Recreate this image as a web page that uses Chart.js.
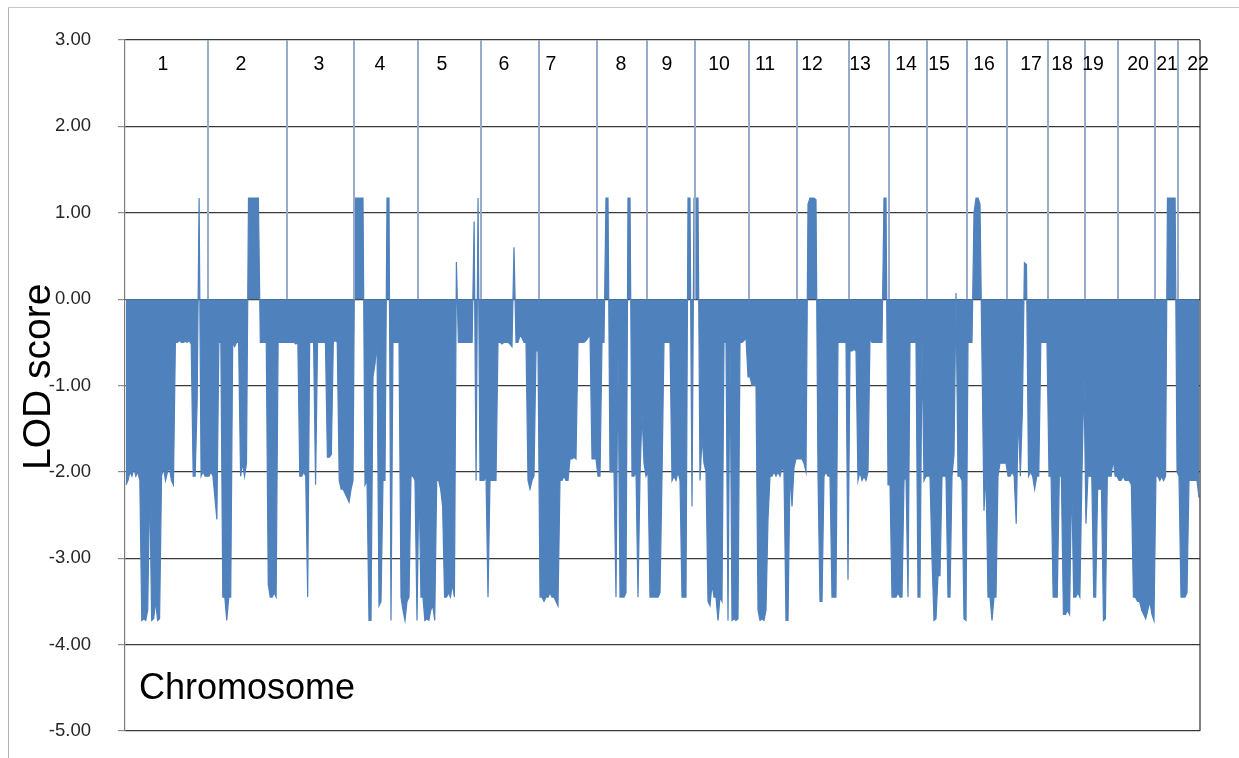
<!DOCTYPE html>
<html>
<head>
<meta charset="utf-8">
<title>LOD score by chromosome</title>
<script src="https://cdn.jsdelivr.net/npm/chart.js@4.4.0/dist/chart.umd.min.js"></script>
<style>
    html, body { margin: 0; padding: 0; background: #ffffff; overflow: hidden; }
    #wrap { position: relative; width: 1239px; height: 758px; }
    #frame { position: absolute; left: 8px; top: 7px; right: -20px; bottom: -20px;
             border-top: 1px solid #c6c6c6; border-left: 1px solid #b4b4b4; }
    #lodChart { position: absolute; left: 0; top: 0; }
</style>
</head>
<body>
<div id="wrap">
    <div id="frame"></div>
    <canvas id="lodChart" width="1239" height="758"></canvas>
</div>
<script>
// Chromosome names and map lengths (relative map units)
const chromosomes = ['1','2','3','4','5','6','7','8','9','10','11','12','13','14','15','16','17','18','19','20','21','22'];
const chrLength = [83, 79, 67, 64, 63, 58, 58, 50, 48, 54, 48, 52, 40, 38, 40, 40, 41, 37, 33, 37, 23, 22];
// where each chromosome number sits along the map
const chrLabelPos = [38, 116, 194, 255, 317, 379, 426, 496, 542, 594, 640, 687, 735, 781, 814, 859, 906, 937, 968, 1013, 1042, 1073];

// y axis ticks
const yTicks = [3, 2, 1, 0, -1, -2, -3, -4, -5];

// LOD scores along each chromosome (markers evenly spaced within a chromosome)
const lodChr1 = [-2.15, -2.1, -2.0, -2.05, -1.95, -2.05, -2.0, -2.1, -3.72, -3.7, -3.72, -3.6, -2.1, -3.72, -3.7, -3.5, -3.72, -3.7, -2.05, -1.95, -2.1, -2.0, -1.95, -2.1, -2.15, -0.5, -0.5, -0.48, -0.5, -0.5, -0.49, -0.5, -0.48, -0.52, -2.05, -2.05, -1.2, 1.17, -2.05, -2.0, -2.05, -2.05];
const lodChr2 = [-2.05, -2.0, -2.05, -2.3, -2.55, -0.5, -0.5, -3.45, -3.45, -3.72, -3.45, -3.45, -0.5, -0.55, -0.5, -0.5, -2.05, -1.9, -2.05, -1.9, 1.17, 1.17, 1.17, 1.17, 1.17, 1.17, -0.5, -0.5, -0.5, -0.5, -3.3, -3.45, -3.45, -3.4, -3.45, -0.5, -0.5, -0.5, -0.5, -0.5];
const lodChr3 = [-0.5, -0.5, -0.5, -0.5, -0.52, -0.5, -2.05, -2.05, -2.0, -2.05, -3.45, -0.5, -0.5, -0.5, -2.15, -0.5, -0.5, -0.5, -0.5, -0.5, -1.83, -1.83, -1.8, -0.5, -0.48, -0.5, -2.1, -2.2, -2.2, -2.25, -2.3, -2.35, -2.2, -2.1];
const lodChr4 = [1.17, 1.17, 1.17, 1.17, 1.17, -2.15, -2.1, -3.72, -3.72, -0.9, -0.75, -0.5, -3.55, -3.5, -2.1, -2.1, 1.17, 1.17, -3.72, -0.5, -0.5, -0.5, -0.5, -3.45, -3.6, -3.72, -3.5, -3.45, -2.05, -2.05, -2.1, -3.72];
const lodChr5 = [-2.05, -3.45, -3.45, -3.72, -3.7, -3.72, -3.6, -3.55, -3.72, -2.1, -2.1, -2.2, -2.4, -3.45, -3.45, -3.4, -3.45, -3.3, -3.45, 0.43, -0.5, -0.5, -0.5, -0.5, -0.5, -0.5, -0.5, -0.5, 0.9, -2.1, 1.17, -2.1];
const lodChr6 = [-2.1, -2.1, -2.05, -3.45, -2.1, -2.1, -2.1, -2.1, -0.5, -0.5, -0.52, -0.5, -0.5, -0.5, -0.52, -0.55, 0.6, -0.5, -0.5, -0.42, -0.45, -0.5, -0.5, -2.1, -2.2, -2.1, -2.05, -0.6, -0.6];
const lodChr7 = [-3.45, -3.45, -3.5, -3.45, -3.45, -3.4, -3.45, -3.45, -3.5, -3.55, -2.1, -2.1, -2.05, -2.1, -2.1, -1.85, -1.85, -1.83, -1.85, -0.5, -0.5, -0.5, -0.5, -0.48, -0.45, -0.4, -1.85, -1.85, -1.85];
const lodChr8 = [-2.05, -2.05, -0.5, -0.5, 1.17, 1.17, -2.0, -2.0, -2.0, -3.45, -0.6, -3.45, -3.45, -3.45, -3.4, 1.17, 1.17, -2.05, -2.05, -2.0, -3.45, -2.05, -1.3, -1.9, -2.05];
const lodChr9 = [-2.0, -3.45, -3.45, -3.45, -3.45, -3.45, -3.4, -2.05, -0.5, -0.5, -0.5, -0.5, -2.1, -2.05, -2.1, -2.0, -2.1, -3.45, -3.45, -3.45, 1.17, 1.17, -2.4, 1.17];
const lodChr10 = [1.17, 1.17, -2.1, -1.6, -1.9, -2.0, -3.5, -3.55, -3.3, -3.45, -3.45, -3.72, -3.45, -3.5, -0.5, -0.5, -3.72, -0.5, -3.72, -3.7, -3.72, -3.7, -0.5, -0.5, -0.48, -0.45, -0.9];
const lodChr11 = [-0.9, -1.0, -1.0, -1.0, -3.6, -3.72, -3.7, -3.72, -3.6, -2.55, -2.05, -2.05, -2.0, -2.05, -2.0, -2.05, -1.95, -2.0, -3.72, -3.72, -2.0, -2.4, -1.95, -1.85];
const lodChr12 = [-1.85, -1.85, -1.85, -1.9, -2.0, 1.1, 1.17, 1.17, 1.17, 1.15, -2.05, -3.5, -3.5, -2.05, -2.0, -2.05, -2.05, -3.45, -3.45, -3.45, -0.5, -0.5, -0.5, -0.5, -0.5, -3.25];
const lodChr13 = [-0.6, -0.6, -0.58, -0.6, -2.1, -2.0, -2.1, -2.05, -2.1, -2.0, -0.45, -0.5, -0.5, -0.5, -0.5, -0.5, -0.5, 1.17, 1.17, -2.15];
const lodChr14 = [-2.15, -3.45, -3.45, -3.45, -3.4, -3.45, -3.45, -2.1, -2.05, -3.45, -0.5, -0.5, -0.5, -0.5, -3.45, -3.45, -0.5, -2.1, -2.05];
const lodChr15 = [-2.05, -2.05, -3.0, -3.72, -3.7, -3.2, -3.2, -2.05, -2.05, -2.05, -3.45, -3.45, -2.05, -1.8, 0.07, -2.05, -2.05, -2.1, -3.7, -3.72];
const lodChr16 = [-0.5, -0.5, -0.5, 1.0, 1.17, 1.17, 1.1, -0.7, -2.45, -2.0, -3.45, -3.45, -3.72, -3.45, -3.45, -2.05, -1.9, -1.9, -1.9, -1.9];
const lodChr17 = [-2.05, -2.05, -2.0, -2.05, -2.6, -1.3, -2.05, -1.3, 0.42, 0.4, -2.05, -2.0, -2.05, -2.2, -2.05, -2.05, -0.5, -0.5, -0.5, -0.5];
const lodChr18 = [-2.05, -2.05, -3.45, -3.45, -3.45, -2.05, -2.05, -3.65, -3.65, -3.6, -3.65, -2.05, -3.45, -3.45, -3.4, -3.45, -2.05, -0.9];
const lodChr19 = [-2.6, -2.05, -2.05, -2.05, -3.45, -3.45, -2.2, -2.2, -2.2, -3.72, -3.7, -2.05, -2.05, -2.05, -1.85, -2.05, -2.05];
const lodChr20 = [-2.1, -2.1, -2.05, -2.1, -2.1, -2.1, -2.15, -3.45, -3.45, -3.5, -3.5, -3.6, -3.65, -3.7, -3.6, -3.5, -3.65, -3.72];
const lodChr21 = [-2.05, -2.05, -2.1, -2.05, -2.1, -2.05, 1.17, 1.17, 1.17, 1.17, 1.17, -2.0];
const lodChr22 = [-2.05, -3.45, -3.45, -3.45, -3.4, -2.1, -2.1, -2.1, -2.1, -2.1, -2.3];

const lodByChr = [lodChr1, lodChr2, lodChr3, lodChr4, lodChr5, lodChr6, lodChr7, lodChr8, lodChr9, lodChr10, lodChr11,
    lodChr12, lodChr13, lodChr14, lodChr15, lodChr16, lodChr17, lodChr18, lodChr19, lodChr20, lodChr21, lodChr22];

const FONT = '"Liberation Sans", Arial, Helvetica, sans-serif';
const LOD_BLUE = '#4f81bd';

// Build marker positions from chromosome lengths
function buildLodPoints() {
    const points = [];
    let start = 0;
    lodByChr.forEach((values, c) => {
        const step = chrLength[c] / values.length;
        values.forEach((v, i) => {
            points.push({ x: start + (i + 0.5) * step, y: v });
        });
        start += chrLength[c];
    });
    return points;
}

// Vertical separators between chromosomes, 0 up to the top of the axis
function buildBoundaryPoints() {
    const points = [];
    let pos = 0;
    for (let c = 0; c < chrLength.length - 1; c++) {
        pos += chrLength[c];
        points.push({ x: pos, y: 0 });
        points.push({ x: pos, y: yTicks[0] });
        points.push({ x: pos, y: null });
    }
    return points;
}

const totalLength = chrLength.reduce((a, b) => a + b, 0);

// Texts inside the plot + right frame line
const chartText = {
    id: 'chartText',
    afterDatasetsDraw(chart) {
        const { ctx, chartArea, scales: { x, y } } = chart;
        ctx.save();

        // right edge of the plot
        ctx.strokeStyle = '#2e2e2e';
        ctx.lineWidth = 1.2;
        ctx.beginPath();
        ctx.moveTo(chartArea.right, chartArea.top);
        ctx.lineTo(chartArea.right, chartArea.bottom);
        ctx.stroke();

        // chromosome numbers
        ctx.fillStyle = '#000000';
        ctx.font = '19.5px ' + FONT;
        ctx.textAlign = 'center';
        ctx.textBaseline = 'alphabetic';
        chromosomes.forEach((name, i) => {
            ctx.fillText(name, x.getPixelForValue(chrLabelPos[i]), y.getPixelForValue(2.65));
        });

        // "Chromosome"
        ctx.font = '36px ' + FONT;
        ctx.textAlign = 'left';
        ctx.fillText('Chromosome', chartArea.left + 14, y.getPixelForValue(-4.63));

        // y axis title
        ctx.font = '39px ' + FONT;
        ctx.textAlign = 'center';
        ctx.translate(50, y.getPixelForValue(-0.9));
        ctx.rotate(-Math.PI / 2);
        ctx.fillText('LOD score', 0, 0);

        ctx.restore();
    }
};

function drawChart() {
    const ctx = document.getElementById('lodChart');
    if (!ctx) return;

    if (typeof Chart === 'undefined') {
        console.error('Chart.js not loaded');
        return;
    }

    new Chart(ctx, {
        type: 'line',
        data: {
            datasets: [
                {
                    label: 'LOD score',
                    data: buildLodPoints(),
                    borderColor: LOD_BLUE,
                    backgroundColor: LOD_BLUE,
                    borderWidth: 1.2,
                    pointRadius: 0,
                    tension: 0,
                    fill: 'origin',
                    order: 2
                },
                {
                    label: 'Chromosome boundaries',
                    data: buildBoundaryPoints(),
                    borderColor: '#98abc8',
                    borderWidth: 2,
                    pointRadius: 0,
                    fill: false,
                    spanGaps: false,
                    order: 1
                }
            ]
        },
        options: {
            responsive: false,
            animation: false,
            devicePixelRatio: 1,
            layout: {
                padding: { left: 0, top: 40, right: 39, bottom: 27 }
            },
            plugins: {
                legend: { display: false },
                tooltip: { enabled: false }
            },
            scales: {
                x: {
                    type: 'linear',
                    min: 0,
                    max: totalLength,
                    display: false
                },
                y: {
                    min: yTicks[yTicks.length - 1],
                    max: yTicks[0],
                    afterFit(scale) {
                        // fixed axis width; the label padding should not push the plot edges
                        scale.width = 125;
                        scale.paddingTop = 10;
                        scale.paddingBottom = 10;
                    },
                    afterBuildTicks(scale) {
                        scale.ticks = yTicks.map(v => ({ value: v }));
                    },
                    ticks: {
                        padding: 27,
                        color: '#262626',
                        font: { size: 18.5, family: FONT },
                        callback: v => Number(v).toFixed(2)
                    },
                    grid: {
                        color: '#3a3a3a',
                        lineWidth: 1.2,
                        tickLength: 7,
                        tickColor: '#8c8c8c'
                    },
                    border: {
                        color: '#7c7c7c',
                        width: 1.2
                    }
                }
            }
        },
        plugins: [chartText]
    });
}

drawChart();
</script>
</body>
</html>
